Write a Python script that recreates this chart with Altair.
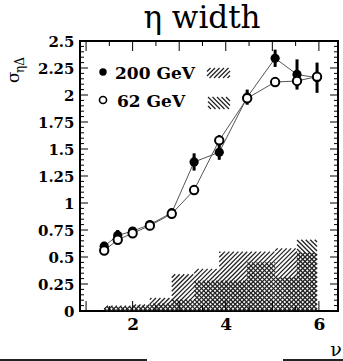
import numpy as np
import pandas as pd
import altair as alt

# eta width versus nu for the two beam energies
nu = [1.39, 1.68, 2.00, 2.37, 2.84, 3.32, 3.86, 4.46, 5.06, 5.53, 5.96]
sig200 = [0.60, 0.70, 0.74, 0.80, 0.91, 1.38, 1.47, 1.98, 2.34, 2.19, 2.16]
err200 = [0.04, 0.05, 0.03, 0.03, 0.03, 0.08, 0.07, 0.07, 0.08, 0.14, 0.14]
sig62 = [0.56, 0.66, 0.72, 0.79, 0.90, 1.12, 1.58, 1.97, 2.12, 2.13, 2.17]
err62 = [0.02, 0.02, 0.02, 0.02, 0.02, 0.03, 0.05, 0.04, 0.04, 0.06, 0.05]

# systematic uncertainty bands, one step per interval between neighbouring nu
sys200 = [0.05, 0.05, 0.06, 0.12, 0.34, 0.39, 0.55, 0.55, 0.58, 0.54]
sys62 = [0.04, 0.04, 0.05, 0.07, 0.11, 0.28, 0.28, 0.45, 0.31, 0.66]

x_labels = [2, 4, 6]
y_labels = [0, 0.25, 0.5, 0.75, 1, 1.25, 1.5, 1.75, 2, 2.25, 2.5]
x_major = [1, 2, 3, 4, 5, 6]
x_minor = [1.5, 2.5, 3.5, 4.5, 5.5]
y_minor = [round(v, 2) for v in np.arange(0.05, 2.5, 0.05) if abs(v / 0.25 - round(v / 0.25)) > 1e-6]

X_DOM = [0.87, 6.41]
Y_DOM = [0, 2.5]
W, H = 258, 270
KX = W / (X_DOM[1] - X_DOM[0])
KY = H / (Y_DOM[1] - Y_DOM[0])
STEP = 4.5


def hatch(u0, u1, v0, v1, direction, step=STEP):
    """Diagonal hatch segments clipped to a rectangle (v pointing up)."""
    segs = []
    if direction > 0:  # "/" : v = u - c
        k0, k1 = int(np.floor((u0 - v1) / step)), int(np.ceil((u1 - v0) / step))
        for k in range(k0, k1 + 1):
            c = k * step
            a, b = max(u0, v0 + c), min(u1, v1 + c)
            if b - a > 0.3:
                segs.append((a, a - c, b, b - c))
    else:  # "\" : v = c - u
        k0, k1 = int(np.floor((u0 + v0) / step)), int(np.ceil((u1 + v1) / step))
        for k in range(k0, k1 + 1):
            c = k * step
            a, b = max(u0, c - v1), min(u1, c - v0)
            if b - a > 0.3:
                segs.append((a, c - a, b, c - b))
    return segs


def band_hatch(heights, direction):
    rows = []
    for x0, x1, h in zip(nu[:-1], nu[1:], heights):
        u0, u1 = (x0 - X_DOM[0]) * KX, (x1 - X_DOM[0]) * KX
        for a, va, b, vb in hatch(u0, u1, 0, h * KY, direction):
            rows.append({"x": a / KX + X_DOM[0], "y": va / KY,
                         "x2": b / KX + X_DOM[0], "y2": vb / KY})
    return rows


def swatch(left, right, top, bottom, direction):
    rows = []
    for a, va, b, vb in hatch(left, right, -bottom, -top, direction):
        rows.append({"x": a, "y": -va, "x2": b, "y2": -vb})
    return rows


hatch_df = pd.DataFrame(band_hatch(sys200, 1) + band_hatch(sys62, -1))
swatch_df = pd.DataFrame(swatch(127, 150, 27, 37, 1) + swatch(128, 150, 56, 68, -1))

pts = pd.DataFrame({
    "nu": nu * 2,
    "sigma": sig200 + sig62,
    "lo": [s - e for s, e in zip(sig200, err200)] + [s - e for s, e in zip(sig62, err62)],
    "hi": [s + e for s, e in zip(sig200, err200)] + [s + e for s, e in zip(sig62, err62)],
    "energy": ["200 GeV"] * len(nu) + ["62 GeV"] * len(nu),
})

xs = alt.Scale(domain=X_DOM, nice=False, zero=False)
ys = alt.Scale(domain=Y_DOM, nice=False, zero=False)
xa = alt.Axis(values=x_labels, title=None, labelExpr="'' + datum.value")
ya = alt.Axis(values=y_labels, title=None, labelExpr="'' + datum.value")

serif = "DejaVu Serif"
black = "#000000"
hatch_color = "#222222"

hatch_layer = alt.Chart(hatch_df).mark_rule(color=hatch_color, strokeWidth=1.3).encode(
    x=alt.X("x:Q", scale=xs, axis=xa), y=alt.Y("y:Q", scale=ys, axis=ya),
    x2="x2:Q", y2="y2:Q")

lines = alt.Chart(pts).mark_line(color="#555555", strokeWidth=1).encode(
    x=alt.X("nu:Q", scale=xs, axis=xa), y=alt.Y("sigma:Q", scale=ys, axis=ya),
    detail="energy:N", order="nu:Q")

errs200 = alt.Chart(pts).transform_filter("datum.energy == '200 GeV'").mark_rule(
    color=black, strokeWidth=3).encode(
    x=alt.X("nu:Q", scale=xs, axis=xa), y=alt.Y("lo:Q", scale=ys, axis=ya), y2="hi:Q")
errs62 = alt.Chart(pts).transform_filter("datum.energy == '62 GeV'").mark_rule(
    color=black, strokeWidth=2.5).encode(
    x=alt.X("nu:Q", scale=xs, axis=xa), y=alt.Y("lo:Q", scale=ys, axis=ya), y2="hi:Q")

dots200 = alt.Chart(pts).transform_filter("datum.energy == '200 GeV'").mark_point(
    shape="circle", filled=True, color=black, size=85, opacity=1).encode(
    x=alt.X("nu:Q", scale=xs, axis=xa), y=alt.Y("sigma:Q", scale=ys, axis=ya))
dots62 = alt.Chart(pts).transform_filter("datum.energy == '62 GeV'").mark_point(
    shape="circle", filled=True, fill="white", stroke=black, strokeWidth=2,
    size=70, opacity=1).encode(
    x=alt.X("nu:Q", scale=xs, axis=xa), y=alt.Y("sigma:Q", scale=ys, axis=ya))

# inward tick marks on all four sides of the frame
def yticks(values, length):
    base = alt.Chart(pd.DataFrame({"v": values}))
    left = base.mark_rule(color=black, strokeWidth=1).encode(
        y=alt.Y("v:Q", scale=ys, axis=ya), x=alt.value(0), x2=alt.value(length))
    right = base.mark_rule(color=black, strokeWidth=1).encode(
        y=alt.Y("v:Q", scale=ys, axis=ya), x=alt.value(W - length), x2=alt.value(W))
    return [left, right]


def xticks(values, length):
    base = alt.Chart(pd.DataFrame({"v": values}))
    bottom = base.mark_rule(color=black, strokeWidth=1).encode(
        x=alt.X("v:Q", scale=xs, axis=xa), y=alt.value(H), y2=alt.value(H - length))
    top = base.mark_rule(color=black, strokeWidth=1).encode(
        x=alt.X("v:Q", scale=xs, axis=xa), y=alt.value(0), y2=alt.value(length))
    return [bottom, top]


tick_layers = yticks(y_labels, 8) + yticks(y_minor, 4) + xticks(x_major, 10) + xticks(x_minor, 5)

# legend: markers, labels and hatch swatches
swatch_layer = alt.Chart(swatch_df).mark_rule(color=hatch_color, strokeWidth=1.3).encode(
    x=alt.X("x:Q", scale=None), y=alt.Y("y:Q", scale=None), x2="x2:Q", y2="y2:Q")

legend_df = pd.DataFrame({"label": ["200 GeV", "62 GeV"], "px": [23, 23], "py": [31, 59],
                          "tx": [35, 37], "ty": [38, 66]})
leg_filled = alt.Chart(legend_df.iloc[:1]).mark_point(
    shape="circle", filled=True, color=black, size=55, opacity=1).encode(
    x=alt.X("px:Q", scale=None), y=alt.Y("py:Q", scale=None))
leg_open = alt.Chart(legend_df.iloc[1:]).mark_point(
    shape="circle", filled=True, fill="white", stroke=black, strokeWidth=1.6,
    size=50, opacity=1).encode(
    x=alt.X("px:Q", scale=None), y=alt.Y("py:Q", scale=None))
leg_text = alt.Chart(legend_df).mark_text(
    font=serif, fontWeight="bold", fontSize=17, align="left", baseline="alphabetic",
    color=black).encode(
    x=alt.X("tx:Q", scale=None), y=alt.Y("ty:Q", scale=None), text="label:N")

title = alt.Chart(pd.DataFrame({"t": ["η width"]})).mark_text(
    font=serif, fontSize=31, align="center", baseline="alphabetic", color=black).encode(
    x=alt.value(122), y=alt.value(-13), text="t:N")

ytitle_main = alt.Chart(pd.DataFrame({"t": ["σ"]})).mark_text(
    font=serif, fontSize=17, angle=270, align="left", baseline="alphabetic", color=black).encode(
    x=alt.value(-61), y=alt.value(42), text="t:N")
ytitle_sub = alt.Chart(pd.DataFrame({"t": ["ηΔ"]})).mark_text(
    font=serif, fontSize=12, angle=270, align="left", baseline="alphabetic", color=black).encode(
    x=alt.value(-56), y=alt.value(32), text="t:N")

xtitle = alt.Chart(pd.DataFrame({"t": ["ν"]})).mark_text(
    font=serif, fontSize=19, align="center", baseline="alphabetic", color=black).encode(
    x=alt.value(256), y=alt.value(315), text="t:N")

edge = alt.Chart(pd.DataFrame({"a": [-80, 203], "b": [67, 263]})).mark_rule(
    color="#222222", strokeWidth=2).encode(
    x=alt.X("a:Q", scale=None), x2="b:Q", y=alt.value(319))

chart = alt.layer(
    hatch_layer, lines, errs200, errs62, dots200, dots62,
    *tick_layers,
    swatch_layer, leg_filled, leg_open, leg_text,
    title, ytitle_main, ytitle_sub, xtitle, edge,
).properties(
    width=W, height=H,
    autosize=alt.AutoSizeParams(type="none"),
    padding={"left": 80, "top": 41, "right": 5, "bottom": 50},
).configure_view(
    stroke=black, strokeWidth=2,
).configure_axis(
    domain=False, ticks=False, grid=False,
    labelFont=serif, labelFontWeight="bold", labelColor=black,
).configure_axisX(
    labelFontSize=17, labelPadding=5,
).configure_axisY(
    labelFontSize=15, labelPadding=6,
)

chart.save("out.html", embed_options={"renderer": "svg", "actions": False})
